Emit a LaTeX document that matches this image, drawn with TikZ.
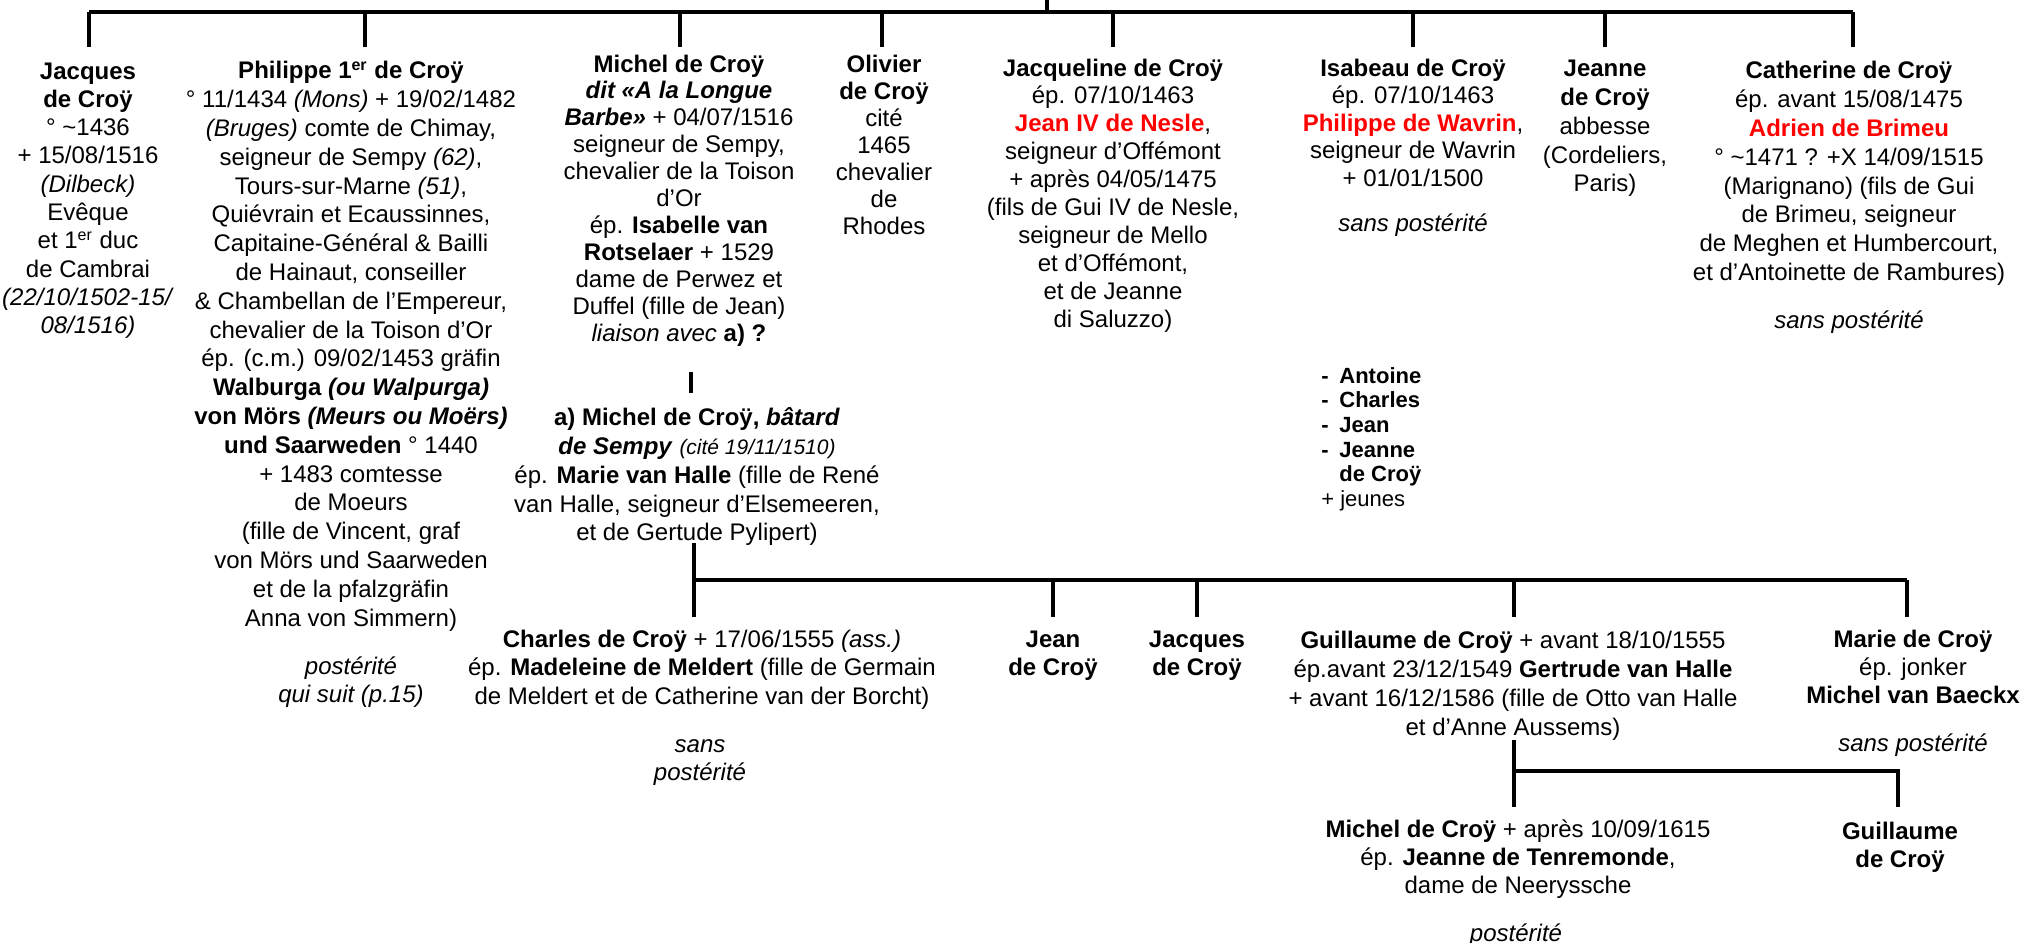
\documentclass[tikz,border=0pt]{standalone}
\usepackage{fontspec}
\setmainfont{Liberation Sans}
\newcommand{\ff}[2]{\fontsize{#1}{#2}\selectfont}
\definecolor{rn}{RGB}{255,0,0}
\newcommand{\rb}[1]{\textcolor{rn}{\textbf{#1}}}
\newcommand{\bi}[1]{\textbf{\textit{#1}}}
\begin{document}
\begin{tikzpicture}[x=0.5pt,y=-0.5pt,
  blk/.style={anchor=north,inner sep=0pt,align=center},
  link/.style={line width=1.6pt}]
\fill[white] (0,0) rectangle (2026,943);
\useasboundingbox (0,0) rectangle (2026,943);

% ---------- first generation ----------
\node[blk,font=\ff{12}{14.15}] (jacques) at (88,58.8) {\strut\textbf{Jacques}\\\textbf{de Croÿ}\\° \textasciitilde1436\\+ 15/08/1516\\\textit{(Dilbeck)}\\Evêque\\et 1\textsuperscript{er} duc\\de Cambrai\\\textit{(22/10/1502-15/}\\\textit{08/1516)}};

\node[blk,font=\ff{12}{14.4}] (philippe) at (351,58.4) {\strut\textbf{Philippe 1\textsuperscript{er} de Croÿ}\\° 11/1434 \textit{(Mons)} + 19/02/1482\\\textit{(Bruges)} comte de Chimay,\\seigneur de Sempy \textit{(62)},\\Tours-sur-Marne \textit{(51)},\\Quiévrain et Ecaussinnes,\\Capitaine-Général \& Bailli\\de Hainaut, conseiller\\\& Chambellan de l’Empereur,\\chevalier de la Toison d’Or\\ép. (c.m.) 09/02/1453 gräfin\\\textbf{Walburga \textit{(ou Walpurga)}}\\\textbf{von Mörs \textit{(Meurs ou Moërs)}}\\\textbf{und Saarweden} ° 1440\\+ 1483 comtesse\\de Moeurs\\(fille de Vincent, graf\\von Mörs und Saarweden\\et de la pfalzgräfin\\Anna von Simmern)};
\node[blk,font=\ff{12}{14}] (philpost) at (351,654) {\strut\textit{postérité}\\\textit{qui suit (p.15)}};

\node[blk,font=\ff{12}{13.45}] (michel) at (679,52.8) {\strut\textbf{Michel de Croÿ}\\\bi{dit «A la Longue}\\\bi{Barbe»} + 04/07/1516\\seigneur de Sempy,\\chevalier de la Toison\\d’Or\\ép. \textbf{Isabelle van}\\\textbf{Rotselaer} + 1529\\dame de Perwez et\\Duffel (fille de Jean)\\\textit{liaison avec} \textbf{a) ?}};

\node[blk,font=\ff{12}{14.35}] (batard) at (697,405.5) {\strut\textbf{a) Michel de Croÿ, \textit{bâtard}}\\\bi{de Sempy} {\ff{10.5}{14.35}\textit{(cité 19/11/1510)}}\\ép. \textbf{Marie van Halle} (fille de René\\van Halle, seigneur d’Elsemeeren,\\et de Gertude Pylipert)};

\node[blk,font=\ff{12}{13.5}] (olivier) at (884,52.7) {\strut\textbf{Olivier}\\\textbf{de Croÿ}\\cité\\1465\\chevalier\\de\\Rhodes};

\node[blk,font=\ff{12}{13.95}] (jacqueline) at (1113,56.1) {\strut\textbf{Jacqueline de Croÿ}\\ép. 07/10/1463\\\rb{Jean IV de Nesle},\\seigneur d’Offémont\\+ après 04/05/1475\\(fils de Gui IV de Nesle,\\seigneur de Mello\\et d’Offémont,\\et de Jeanne\\di Saluzzo)};

\node[blk,font=\ff{12}{13.75}] (isabeau) at (1413,56.4) {\strut\textbf{Isabeau de Croÿ}\\ép. 07/10/1463\\\rb{Philippe de Wavrin},\\seigneur de Wavrin\\+ 01/01/1500};
\node[blk,font=\ff{12}{13.75}] (isapost) at (1413,212) {\strut\textit{sans postérité}};

\node[anchor=north west,inner sep=0pt,align=left,font=\ff{11}{12.3}] (enfants) at (1321,365.7) {\strut\textbf{\makebox[9pt][l]{-}Antoine}\\\textbf{\makebox[9pt][l]{-}Charles}\\\textbf{\makebox[9pt][l]{-}Jean}\\\textbf{\makebox[9pt][l]{-}Jeanne}\\\textbf{\hspace*{9pt}de Croÿ}\\+ jeunes};

\node[blk,font=\ff{12}{14.35}] (jeanne) at (1605,56.5) {\strut\textbf{Jeanne}\\\textbf{de Croÿ}\\abbesse\\(Cordeliers,\\Paris)};

\node[blk,font=\ff{12}{14.4}] (catherine) at (1849,58.4) {\strut\textbf{Catherine de Croÿ}\\ép. avant 15/08/1475\\\rb{Adrien de Brimeu}\\° \textasciitilde1471 ? +X 14/09/1515\\(Marignano) (fils de Gui\\de Brimeu, seigneur\\de Meghen et Humbercourt,\\et d’Antoinette de Rambures)};
\node[blk,font=\ff{12}{14.4}] (catpost) at (1849,308.4) {\strut\textit{sans postérité}};

% ---------- second generation ----------
\node[blk,font=\ff{12}{14.35}] (charles) at (702,626.5) {\strut\textbf{Charles de Croÿ} + 17/06/1555 \textit{(ass.)}\\ép. \textbf{Madeleine de Meldert} (fille de Germain\\de Meldert et de Catherine van der Borcht)};
\node[blk,font=\ff{12}{14.35}] (charpost) at (700,731.5) {\strut\textit{sans}\\\textit{postérité}};

\node[blk,font=\ff{12}{14.35}] (jean) at (1053,626.5) {\strut\textbf{Jean}\\\textbf{de Croÿ}};
\node[blk,font=\ff{12}{14.35}] (jacquesb) at (1197,626.5) {\strut\textbf{Jacques}\\\textbf{de Croÿ}};

\node[blk,font=\ff{12}{14.5}] (guillaume) at (1513,627.3) {\strut\textbf{Guillaume de Croÿ} + avant 18/10/1555\\ép.avant 23/12/1549 \textbf{Gertrude van Halle}\\+ avant 16/12/1586 (fille de Otto van Halle\\et d’Anne Aussems)};

\node[blk,font=\ff{12}{14}] (marie) at (1913,627) {\strut\textbf{Marie de Croÿ}\\ép. jonker\\\textbf{Michel van Baeckx}};
\node[blk,font=\ff{12}{14}] (mariepost) at (1913,731.5) {\strut\textit{sans postérité}};

% ---------- third generation ----------
\node[blk,font=\ff{12}{14}] (michelb) at (1518,817) {\strut\textbf{Michel de Croÿ} + après 10/09/1615\\ép. \textbf{Jeanne de Tenremonde},\\dame de Neeryssche};
\node[blk,font=\ff{12}{14}] (michpost) at (1516,921.4) {\strut\textit{postérité}};
\node[blk,font=\ff{12}{14}] (guillaumeb) at (1900,819) {\strut\textbf{Guillaume}\\\textbf{de Croÿ}};

% ---------- connectors ----------
\coordinate (root) at (1047,0);
\coordinate (bus1) at (1047,12);
\coordinate (dJacques) at (89,47);
\coordinate (dPhilippe) at (365,47);
\coordinate (dMichel) at (680,47);
\coordinate (dOlivier) at (882,47);
\coordinate (dJacqueline) at (1113,47);
\coordinate (dIsabeau) at (1413,47);
\coordinate (dJeanne) at (1605,47);
\coordinate (dCatherine) at (1853,47);
\draw[link] (root) -- (bus1);
\draw[link] (bus1 -| dJacques) -- (bus1 -| dCatherine);
\foreach \c in {dJacques,dPhilippe,dMichel,dOlivier,dJacqueline,dIsabeau,dJeanne,dCatherine}
  \draw[link] (bus1 -| \c) -- (\c);

\coordinate (liaA) at (691,372);
\coordinate (liaB) at (691,393);
\draw[link] (liaA) -- (liaB);

\coordinate (batOut) at (694,543);
\coordinate (bus2) at (694,580);
\coordinate (dCharles) at (694,617);
\coordinate (dJean) at (1053,617);
\coordinate (dJacquesb) at (1197,617);
\coordinate (dGuillaume) at (1514,617);
\coordinate (dMarie) at (1907,617);
\draw[link] (batOut) -- (dCharles);
\draw[link] (bus2) -- (bus2 -| dMarie);
\foreach \c in {dJean,dJacquesb,dGuillaume,dMarie}
  \draw[link] (bus2 -| \c) -- (\c);

\coordinate (guiOut) at (1514,740);
\coordinate (bus3) at (1514,771);
\coordinate (dMichelb) at (1514,807);
\coordinate (dGuillaumeb) at (1898,807);
\draw[link] (guiOut) -- (dMichelb);
\draw[link] (bus3) -- (bus3 -| dGuillaumeb) -- (dGuillaumeb);
\end{tikzpicture}
\end{document}
